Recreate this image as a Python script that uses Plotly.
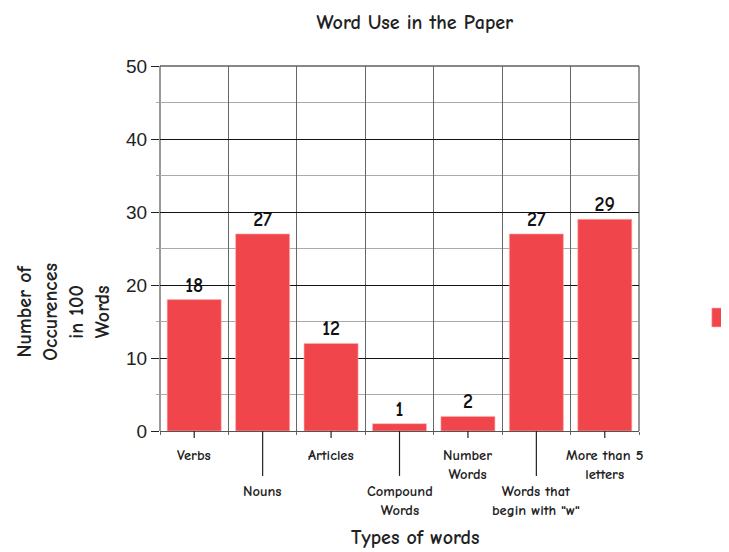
import plotly.graph_objects as go

# data
categories = ["Verbs", "Nouns", "Articles", "Compound<br>Words", "Number<br>Words",
              "Words that<br>begin with \"w\"", "More than 5<br>letters"]
counts = [18, 27, 12, 1, 2, 27, 29]
y_ticks = [0, 10, 20, 30, 40, 50]

BAR_RED = '#F0454A'
FONT = 'Comic Sans MS, Comic Neue, Lato, sans-serif'

n = len(categories)
xs = list(range(n))

fig = go.Figure()

fig.add_trace(
    go.Bar(
        x=xs,
        y=counts,
        width=0.79,
        name='Occurences',
        marker=dict(color=BAR_RED, line=dict(color='rgba(255,180,180,0.6)', width=1)),
        text=[str(c) for c in counts],
        textposition='outside',
        textfont=dict(family=FONT, size=20, color='#111', weight='bold'),
        cliponaxis=False,
        showlegend=False
    )
)

# staggered category labels with tick lines
for i, lab in enumerate(categories):
    low = i % 2 == 1
    fig.add_shape(
        type='line', xref='x', yref='paper',
        x0=i, x1=i, y0=0, y1=-0.123 if low else -0.019,
        line=dict(color='#222', width=1.2)
    )
    fig.add_annotation(
        x=i, xref='x', y=-0.138 if low else -0.038, yref='paper',
        text=lab, showarrow=False, yanchor='top',
        font=dict(family=FONT, size=14.5, color='#222', weight='bold')
    )

# plot frame
fig.add_shape(type='line', xref='paper', yref='paper', x0=0, x1=1, y0=1, y1=1,
              line=dict(color='#111', width=1.2), layer='below')
fig.add_shape(type='line', xref='paper', yref='paper', x0=0, x1=0, y0=0, y1=1,
              line=dict(color='#555', width=1.2), layer='below')
fig.add_shape(type='line', xref='paper', yref='paper', x0=1, x1=1, y0=0, y1=1,
              line=dict(color='#555', width=1.2), layer='below')

# legend swatch, cut off at the right edge as in the original
fig.add_shape(type='rect', xref='paper', yref='paper',
              x0=1.152, x1=1.20, y0=0.285, y1=0.337,
              fillcolor=BAR_RED, line=dict(color='rgba(255,180,180,0.6)', width=1))

# y-axis title (four lines)
fig.add_annotation(
    x=-0.31, xref='paper', y=0.187, yref='paper',
    text='Number of<br>Occurences<br>in 100<br>Words',
    textangle=-90, showarrow=False,
    font=dict(family=FONT, size=20, color='#222', weight='bold')
)

# x-axis title
fig.add_annotation(
    x=0.532, xref='paper', y=-0.292, yref='paper',
    text='Types of words', showarrow=False, yanchor='middle',
    font=dict(family=FONT, size=20, color='#222', weight='bold')
)

fig.update_layout(
    title=dict(
        text='Word Use in the Paper',
        x=0.532, xref='paper', y=0.975, yref='container',
        xanchor='center', yanchor='middle',
        font=dict(family=FONT, size=20, color='#222', weight='bold')
    ),
    width=729, height=552,
    paper_bgcolor='white',
    plot_bgcolor='white',
    margin=dict(l=152, r=98, t=58, b=129, autoexpand=False),
    showlegend=False,
    font=dict(family=FONT, color='#222')
)

fig.update_xaxes(
    range=[-0.5, n - 0.5],
    tickvals=[i - 0.5 for i in range(n + 1)],
    showticklabels=False,
    showgrid=True, gridcolor='#666', gridwidth=1,
    ticks='outside', ticklen=3, tickcolor='#666',
    showline=True, linecolor='#555', linewidth=1.2,
    zeroline=False, fixedrange=True
)

fig.update_yaxes(
    range=[0, 50],
    tickvals=y_ticks,
    tickfont=dict(family='Liberation Sans, Arial', size=19, color='#222'),
    showgrid=True, gridcolor='#111', gridwidth=1,
    ticks='outside', ticklen=8, tickcolor='#222',
    minor=dict(dtick=5, showgrid=True, gridcolor='#aaa', ticks='outside',
               ticklen=3, tickcolor='#aaa'),
    zeroline=False, showline=False, fixedrange=True
)

fig.write_html("out.html")
